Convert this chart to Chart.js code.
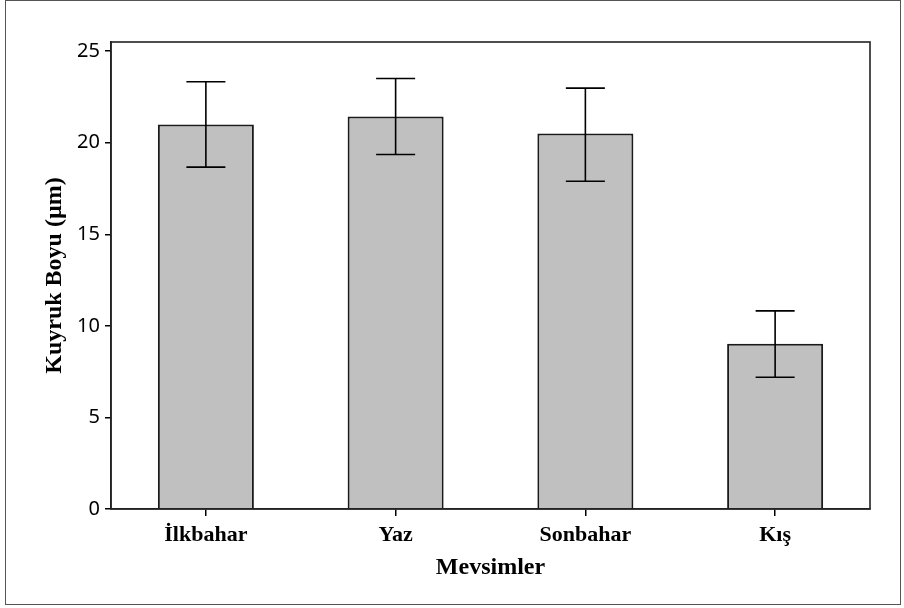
<!DOCTYPE html>
<html><head><meta charset="utf-8">
<script src="https://cdn.jsdelivr.net/npm/chart.js@4"></script>
<style>html,body{margin:0;padding:0;background:#fff}#wrap{width:904px;height:608px;position:relative}</style>
</head><body><div id="wrap"><canvas id="c" width="904" height="608"></canvas></div>
<script>
const categories = ['İlkbahar', 'Yaz', 'Sonbahar', 'Kış'];
const means = [21.0, 21.43, 20.5, 9.02];
const errLow = [18.67, 19.36, 17.9, 7.19];
const errHigh = [23.33, 23.51, 22.98, 10.82];
const yTicks = [0, 5, 10, 15, 20, 25];
const yTitle = 'Kuyruk Boyu (µm)';
const xTitle = 'Mevsimler';

const errorBars = {
  id: 'errorBars',
  afterDatasetsDraw(chart) {
    const ctx = chart.ctx, ys = chart.scales.y, meta = chart.getDatasetMeta(0);
    ctx.save();
    ctx.strokeStyle = '#000'; ctx.lineWidth = 1.6;
    meta.data.forEach((bar, i) => {
      const x = bar.x, yl = ys.getPixelForValue(errLow[i]), yh = ys.getPixelForValue(errHigh[i]);
      const hw = 19.5;
      ctx.beginPath();
      ctx.moveTo(x, yl); ctx.lineTo(x, yh);
      ctx.moveTo(x - hw, yl); ctx.lineTo(x + hw, yl);
      ctx.moveTo(x - hw, yh); ctx.lineTo(x + hw, yh);
      ctx.stroke();
    });
    ctx.restore();
  }
};
const frames = {
  id: 'frames',
  beforeDraw(chart) {
    const ctx = chart.ctx;
    ctx.save(); ctx.fillStyle = '#fff'; ctx.fillRect(0, 0, chart.width, chart.height); ctx.restore();
  },
  afterDraw(chart) {
    const ctx = chart.ctx, a = chart.chartArea;
    ctx.save();
    ctx.strokeStyle = '#222'; ctx.lineWidth = 1.6;
    ctx.strokeRect(a.left, a.top, a.right - a.left, a.bottom - a.top);
    ctx.strokeStyle = '#555'; ctx.lineWidth = 1;
    ctx.strokeRect(5.5, 0.5, 895, 604);
    ctx.restore();
  }
};

new Chart(document.getElementById('c'), {
  type: 'bar',
  data: {
    labels: categories,
    datasets: [{
      data: means,
      backgroundColor: '#c0c0c0',
      borderColor: '#1a1a1a',
      borderWidth: 2,
      barPercentage: 0.506,
      categoryPercentage: 1.0
    }]
  },
  options: {
    responsive: false,
    animation: false,
    devicePixelRatio: 1,
    layout: { padding: { left: 0, top: 42, right: 34, bottom: 0 } },
    plugins: { legend: { display: false }, tooltip: { enabled: false } },
    scales: {
      x: {
        afterFit(s) { s.height = 99; },
        grid: { offset: false, drawOnChartArea: false, drawTicks: true, tickLength: 7, color: '#000', lineWidth: 1.5 },
        border: { display: true, color: '#222', width: 1.6 },
        ticks: { color: '#000', padding: 6, font: { family: '"Liberation Serif", "Times New Roman", serif', size: 22, weight: 'bold' } },
        title: { display: true, text: xTitle, color: '#000', padding: { top: 0, bottom: 26 }, font: { family: '"Liberation Serif", "Times New Roman", serif', size: 24, weight: 'bold' } }
      },
      y: {
        min: 0, max: 25.5,
        afterFit(s) { s.width = 111; },
        afterBuildTicks(s) { s.ticks = yTicks.map(v => ({ value: v })); },
        grid: { drawOnChartArea: false, drawTicks: true, tickLength: 6, color: '#000', lineWidth: 1.5 },
        border: { display: true, color: '#222', width: 1.6 },
        ticks: { color: '#000', padding: 5, font: { family: '"Noto Sans", "Open Sans", sans-serif', size: 20 } },
        title: { display: true, text: yTitle, color: '#000', padding: { top: 40, bottom: 0 }, font: { family: '"Liberation Serif", "Times New Roman", serif', size: 24, weight: 'bold' } }
      }
    }
  },
  plugins: [errorBars, frames]
});
</script>
</body></html>
